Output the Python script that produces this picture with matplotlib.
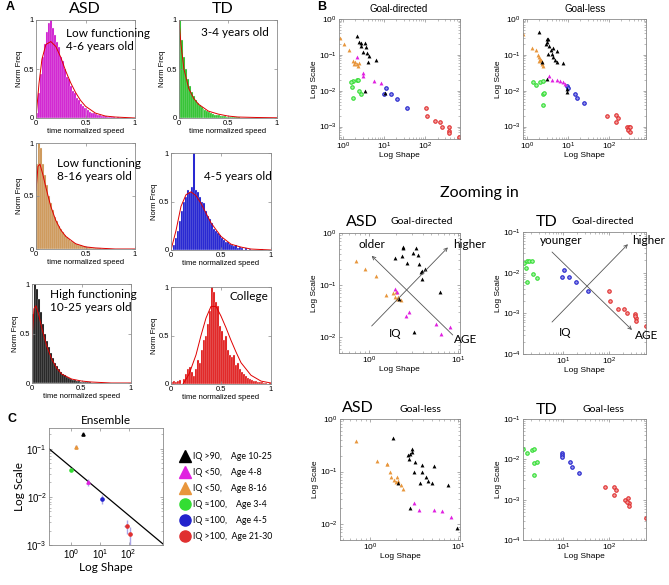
import matplotlib.pyplot as plt
from matplotlib.lines import Line2D
from matplotlib.ticker import NullFormatter, LogLocator
import numpy as np

plt.rcParams['font.family'] = ['Liberation Sans', 'DejaVu Sans']
plt.rcParams['mathtext.default'] = 'regular'

W, H = 669, 585
CAL = ['Lato', 'DejaVu Sans']

# ---------------- panel A: normalized speed histograms (50 bins on 0..1) ----------------
n_bins = 50
hist_asd_low46 = [0.05, 0.25, 0.45, 0.62, 0.75, 0.88, 0.97, 1.0, 0.92, 0.85,
                  0.78, 0.72, 0.62, 0.58, 0.5, 0.42, 0.4, 0.33, 0.28, 0.25,
                  0.2, 0.18, 0.14, 0.12, 0.1, 0.1, 0.08, 0.06, 0.05, 0.05,
                  0.04, 0.03, 0.03, 0.02, 0.02, 0.02, 0.01, 0.01, 0.01, 0.01,
                  0.0, 0.01, 0.0, 0.0, 0.0, 0.0, 0.0, 0.0, 0.0, 0.0]
hist_asd_low816 = [0.8, 1.0, 0.95, 0.8, 0.7, 0.6, 0.5, 0.43, 0.37, 0.3,
                   0.26, 0.22, 0.19, 0.16, 0.13, 0.11, 0.09, 0.08, 0.07, 0.06,
                   0.05, 0.04, 0.035, 0.03, 0.025, 0.02, 0.02, 0.015, 0.01, 0.01,
                   0.008, 0.006, 0.005, 0.004, 0.004, 0.003, 0.002, 0.002, 0.002, 0.001,
                   0.001, 0.001, 0.0, 0.0, 0.0, 0.0, 0.0, 0.0, 0.0, 0.0]
hist_asd_high = [0.7, 1.0, 0.95, 0.85, 0.72, 0.6, 0.5, 0.42, 0.36, 0.3,
                 0.25, 0.2, 0.17, 0.14, 0.11, 0.09, 0.08, 0.06, 0.05, 0.04,
                 0.035, 0.03, 0.025, 0.02, 0.015, 0.012, 0.01, 0.01, 0.008, 0.006,
                 0.005, 0.004, 0.003, 0.003, 0.002, 0.002, 0.001, 0.001, 0.001, 0.0,
                 0.0, 0.0, 0.0, 0.0, 0.0, 0.0, 0.0, 0.0, 0.0, 0.0]
hist_td_34 = [1.0, 0.8, 0.62, 0.5, 0.4, 0.33, 0.27, 0.22, 0.18, 0.15,
              0.13, 0.11, 0.09, 0.08, 0.07, 0.06, 0.05, 0.04, 0.035, 0.03,
              0.03, 0.025, 0.02, 0.018, 0.015, 0.012, 0.01, 0.01, 0.008, 0.007,
              0.006, 0.005, 0.004, 0.004, 0.003, 0.003, 0.002, 0.002, 0.002, 0.001,
              0.001, 0.001, 0.001, 0.0, 0.0, 0.0, 0.0, 0.0, 0.0, 0.0]
hist_td_45 = [0.0, 0.05, 0.12, 0.2, 0.3, 0.4, 0.5, 0.55, 0.62, 0.6,
              0.65, 1.0, 0.62, 0.6, 0.55, 0.5, 0.48, 0.4, 0.35, 0.32,
              0.28, 0.22, 0.2, 0.18, 0.15, 0.12, 0.1, 0.08, 0.08, 0.06,
              0.05, 0.04, 0.05, 0.02, 0.03, 0.02, 0.0, 0.02, 0.0, 0.01,
              0.0, 0.0, 0.0, 0.0, 0.0, 0.01, 0.0, 0.0, 0.0, 0.0]
hist_td_college = [0.02, 0.03, 0.02, 0.03, 0.04, 0.0, 0.05, 0.1, 0.15, 0.18,
                   0.12, 0.08, 0.15, 0.25, 0.22, 0.35, 0.45, 0.5, 0.62, 0.75,
                   1.0, 0.95, 0.85, 0.8, 0.6, 0.55, 0.45, 0.5, 0.35, 0.3,
                   0.28, 0.3, 0.2, 0.22, 0.15, 0.12, 0.1, 0.08, 0.06, 0.05,
                   0.04, 0.03, 0.03, 0.02, 0.02, 0.02, 0.01, 0.01, 0.0, 0.01]

# red fitted curves
fit_asd_low46_x = [0, 0.03, 0.06, 0.1, 0.15, 0.2, 0.25, 0.3, 0.35, 0.4, 0.45, 0.5, 0.6, 0.7, 0.8, 1.0]
fit_asd_low46_y = [0, 0.35, 0.6, 0.75, 0.78, 0.73, 0.62, 0.48, 0.36, 0.26, 0.18, 0.12, 0.05, 0.02, 0.01, 0.0]
fit_asd_low816_x = [0, 0.02, 0.04, 0.07, 0.1, 0.15, 0.2, 0.25, 0.3, 0.4, 0.5, 0.6, 0.8, 1.0]
fit_asd_low816_y = [0.55, 0.78, 0.8, 0.7, 0.58, 0.4, 0.27, 0.18, 0.12, 0.05, 0.02, 0.01, 0.0, 0.0]
fit_asd_high_x = [0, 0.02, 0.04, 0.07, 0.1, 0.15, 0.2, 0.25, 0.3, 0.4, 0.5, 0.6, 0.8, 1.0]
fit_asd_high_y = [0.45, 0.75, 0.78, 0.68, 0.55, 0.37, 0.24, 0.15, 0.09, 0.04, 0.02, 0.01, 0.0, 0.0]
fit_td_34_x = [0, 0.02, 0.05, 0.1, 0.15, 0.2, 0.3, 0.4, 0.5, 0.6, 0.8, 1.0]
fit_td_34_y = [1.0, 0.75, 0.5, 0.3, 0.2, 0.14, 0.07, 0.04, 0.02, 0.01, 0.005, 0.002]
fit_td_45_x = [0, 0.05, 0.1, 0.15, 0.2, 0.25, 0.3, 0.35, 0.4, 0.5, 0.6, 0.7, 0.8, 1.0]
fit_td_45_y = [0, 0.2, 0.45, 0.57, 0.6, 0.56, 0.48, 0.38, 0.28, 0.14, 0.06, 0.03, 0.01, 0.0]
fit_td_college_x = [0.12, 0.18, 0.25, 0.3, 0.35, 0.4, 0.45, 0.5, 0.55, 0.6, 0.65, 0.7, 0.8, 0.9, 1.0]
fit_td_college_y = [0.0, 0.1, 0.3, 0.5, 0.68, 0.8, 0.8, 0.7, 0.58, 0.45, 0.33, 0.22, 0.09, 0.03, 0.01]

# ---------------- panel B: (shape, scale) per participant ----------------
gd_orange = [(0.85, 0.29), (1.05, 0.2), (1.4, 0.14), (1.8, 0.067), (2.0, 0.063), (2.15, 0.057),
             (2.3, 0.05), (1.9, 0.057), (2.4, 0.059)]
gd_black = [(2.15, 0.33), (2.5, 0.23), (2.8, 0.22), (3.5, 0.21), (2.7, 0.18), (3.7, 0.165),
            (3.0, 0.12), (3.9, 0.11), (4.4, 0.09), (6.4, 0.074), (4.1, 0.063), (3.5, 0.01), (10.5, 0.0084)]
gd_magenta = [(2.15, 0.085), (3.0, 0.031), (3.1, 0.026), (5.8, 0.019), (8.5, 0.016)]
gd_green = [(1.8, 0.019), (2.15, 0.02), (2.3, 0.02), (1.55, 0.017), (1.7, 0.013), (2.4, 0.01),
            (2.8, 0.0082), (1.8, 0.0063)]
gd_blue = [(11, 0.012), (10, 0.0082), (14.6, 0.0082), (20.4, 0.006), (37, 0.0034)]
gd_red = [(105, 0.0034), (110, 0.002), (173, 0.0014), (228, 0.0013), (250, 0.001), (370, 0.001),
          (370, 0.00075), (370, 0.00065), (650, 0.00051)]

gl_orange = [(0.81, 0.39), (1.35, 0.158), (1.7, 0.138), (1.9, 0.1), (2.0, 0.086), (2.07, 0.077),
             (2.2, 0.072), (2.3, 0.062), (2.36, 0.056), (2.5, 0.05), (1.96, 0.069)]
gl_black = [(1.99, 0.44), (3.0, 0.27), (3.1, 0.23), (2.9, 0.2), (3.2, 0.28), (3.5, 0.18), (3.8, 0.14),
            (4.4, 0.16), (5.5, 0.13), (3.3, 0.107), (4.0, 0.107), (4.2, 0.086), (4.8, 0.072),
            (5.3, 0.062), (7.6, 0.058), (2.3, 0.062), (3.0, 0.021), (9.7, 0.0093), (9.7, 0.011)]
gl_magenta = [(3.5, 0.026), (4.0, 0.0195), (5.3, 0.0195), (6.3, 0.019), (7.6, 0.017), (8.4, 0.015)]
gl_green = [(1.37, 0.018), (1.7, 0.0145), (2.07, 0.017), (2.4, 0.019), (2.5, 0.0082), (2.6, 0.0088),
            (2.5, 0.0041)]
gl_blue = [(9.7, 0.0136), (10, 0.0116), (15, 0.0082), (16.8, 0.0064), (24.8, 0.0046)]
gl_red = [(91, 0.002), (150, 0.0021), (165, 0.0017), (146, 0.0013), (275, 0.001), (305, 0.00095),
          (330, 0.001), (290, 0.00081), (330, 0.0007), (740, 0.00036)]

# zoomed-in panels
zd_asd_orange = [(0.71, 0.29), (0.9, 0.2), (1.2, 0.15), (1.57, 0.066), (1.84, 0.07), (1.99, 0.075),
                 (1.94, 0.06), (2.04, 0.055), (2.27, 0.051), (2.1, 0.058)]
zd_asd_black = [(1.94, 0.33), (2.4, 0.54), (2.4, 0.52), (2.33, 0.37), (3.1, 0.41), (3.4, 0.52),
                (3.5, 0.38), (2.7, 0.27), (3.6, 0.26), (3.85, 0.18), (3.95, 0.19), (4.2, 0.2),
                (3.95, 0.13), (6.2, 0.075), (2.15, 0.055), (3.2, 0.0125)]
zd_asd_magenta = [(1.94, 0.085), (2.04, 0.075), (2.6, 0.026), (2.8, 0.031), (5.6, 0.018),
                  (6.4, 0.0115), (8.1, 0.0155)]
zd_td_green = [(1.41, 0.0175), (1.65, 0.0196), (1.8, 0.0196), (2.1, 0.0196), (1.57, 0.013),
               (2.2, 0.0095), (2.7, 0.0076), (1.65, 0.006)]
zd_td_blue = [(10.5, 0.0118), (9.5, 0.008), (13.5, 0.008), (19, 0.006), (35, 0.0035)]
zd_td_red = [(100, 0.0035), (105, 0.002), (157, 0.0013), (220, 0.0013), (250, 0.001), (370, 0.00095),
             (385, 0.00075), (385, 0.00065), (370, 0.00085), (640, 0.0005)]

zl_asd_orange = [(0.7, 0.38), (1.2, 0.156), (1.55, 0.14), (1.7, 0.1), (1.75, 0.08), (1.58, 0.14),
                 (1.9, 0.07), (2.05, 0.08), (2.0, 0.064), (2.1, 0.067), (2.27, 0.056), (2.4, 0.047)]
zl_asd_black = [(1.85, 0.43), (2.7, 0.21), (2.85, 0.22), (3.0, 0.24), (3.0, 0.27), (2.8, 0.17),
                (3.25, 0.15), (3.9, 0.136), (3.2, 0.1), (3.9, 0.1), (5.3, 0.13), (4.3, 0.08),
                (4.6, 0.067), (5.1, 0.06), (3.7, 0.06), (7.7, 0.056), (2.1, 0.062), (2.85, 0.0204),
                (9.8, 0.0084)]
zl_asd_magenta = [(3.2, 0.025), (3.6, 0.019), (5.3, 0.019), (6.6, 0.018), (8.4, 0.0135)]
zl_td_green = [(1.35, 0.018), (1.65, 0.0145), (2.1, 0.017), (2.3, 0.018), (2.4, 0.0082), (2.7, 0.0087),
               (2.4, 0.0041)]
zl_td_blue = [(9.5, 0.0145), (9.5, 0.013), (9.5, 0.0116), (14, 0.0087), (15.6, 0.0066), (22, 0.0047)]
zl_td_red = [(82, 0.0021), (128, 0.0021), (142, 0.0017), (128, 0.0013), (230, 0.001), (260, 0.0011),
             (270, 0.00084), (245, 0.0009), (270, 0.00068), (640, 0.00036)]

# ---------------- panel C: ensemble means ----------------
ens_labels = ['IQ >90,    Age 10-25', 'IQ <50,    Age 4-8', 'IQ <50,    Age 8-16',
              'IQ \u2248100,    Age 3-4', 'IQ \u2248100,    Age 4-5', 'IQ >100,  Age 21-30']
ens_shape = [2.55, 3.8, 1.42, 0.95, 11.7, 85, 115]
ens_scale = [0.2, 0.020, 0.11, 0.037, 0.0091, 0.0025, 0.0017]
ens_shape_err = [0.05, 0.4, 0.05, 0.05, 0.8, 15, 12]
ens_scale_err = [0.015, 0.003, 0.01, 0.002, 0.002, 0.0008, 0.0007]
ens_group = [0, 1, 2, 3, 4, 5, 5]
fit_line_shape = [0.166, 1580]
fit_line_scale = [0.1, 0.00105]

c_black = '#000000'
c_magenta = '#E020E0'
c_orange = '#E8963C'
c_green = '#33DD33'
c_blue = '#2222CC'
c_red = '#E03030'
group_colors = [c_black, c_magenta, c_orange, c_green, c_blue, c_red]
group_markers = ['^', '^', '^', 'o', 'o', 'o']
light_fill = {c_green: '#A8F0A8', c_blue: '#9898E8', c_red: '#F2A0A0'}

fig = plt.figure(figsize=(W / 100, H / 100), dpi=100)


def add_px(x0, y0, x1, y1):
    return fig.add_axes([x0 / W, 1 - y1 / H, (x1 - x0) / W, (y1 - y0) / H])


def ftext(x, y, s, **kw):
    fig.text(x / W, 1 - y / H, s, **kw)


def matlab_style(ax, size=5.5):
    for s in ax.spines.values():
        s.set_color('#8a8a8a')
        s.set_linewidth(0.6)
    ax.tick_params(which='both', direction='in', top=True, right=True, labelsize=size,
                   color='#8a8a8a', pad=1.5)
    ax.tick_params(which='major', length=2.5, width=0.5)
    ax.tick_params(which='minor', length=1.3, width=0.4)


def hist_panel(box, heights, color, fx, fy):
    ax = add_px(*box)
    edges = np.linspace(0, 1, n_bins + 1)
    ax.bar(edges[:-1], heights, width=1 / n_bins, align='edge', color=color,
           edgecolor='#f0f0f0', linewidth=0.25)
    ax.plot(fx, fy, color='#e00000', lw=0.7)
    ax.set_xlim(0, 1)
    ax.set_ylim(0, 1)
    ax.set_xticks([0, 0.5, 1])
    ax.set_xticklabels(['0', '0.5', '1'])
    ax.set_yticks([0, 0.5, 1])
    ax.set_yticklabels(['0', '0.5', '1'])
    matlab_style(ax, 5.5)
    ax.set_xlabel('time normalized speed', fontsize=5.5, labelpad=0.5)
    ax.set_ylabel('Norm Freq', fontsize=5.5, labelpad=0)
    return ax


hist_panel((36, 20, 135, 118), hist_asd_low46, '#CC00CC', fit_asd_low46_x, fit_asd_low46_y)
hist_panel((179, 20, 277, 118), hist_td_34, '#11BB11', fit_td_34_x, fit_td_34_y)
hist_panel((36, 143, 135, 249), hist_asd_low816, '#C98A40', fit_asd_low816_x, fit_asd_low816_y)
hist_panel((171, 153, 271, 250), hist_td_45, '#0000CC', fit_td_45_x, fit_td_45_y)
hist_panel((32, 284, 131, 383), hist_asd_high, '#000000', fit_asd_high_x, fit_asd_high_y)
hist_panel((171, 287, 271, 384), hist_td_college, '#E00000', fit_td_college_x, fit_td_college_y)

ftext(6, 7, 'A', fontsize=9, fontweight='bold', va='center')
ftext(85, 9, 'ASD', fontsize=11.5, family=CAL, ha='center', va='center')
ftext(223, 9, 'TD', fontsize=11.5, family=CAL, ha='center', va='center')
ftext(66, 40, 'Low functioning\n4-6 years old', fontsize=8.5, family=CAL, va='center', linespacing=1.25)
ftext(201, 32, '3-4 years old', fontsize=8.5, family=CAL, va='center')
ftext(57, 170, 'Low functioning\n8-16 years old', fontsize=8.5, family=CAL, va='center', linespacing=1.25)
ftext(204, 177, '4-5 years old', fontsize=8.5, family=CAL, va='center')
ftext(50, 301, 'High functioning\n10-25 years old', fontsize=8.5, family=CAL, va='center', linespacing=1.25)
ftext(230, 296, 'College', fontsize=8.5, family=CAL, va='center')


def log_panel(box, groups, xlim, ylim, xticks, yticks):
    ax = add_px(*box)
    ax.set_xscale('log')
    ax.set_yscale('log')
    for pts, color, marker in groups:
        xs = [p[0] for p in pts]
        ys = [p[1] for p in pts]
        if marker == 'o':
            ax.plot(xs, ys, ls='none', marker='o', ms=2.5, mec=color, mfc=light_fill[color], mew=0.8)
        else:
            ax.plot(xs, ys, ls='none', marker='^', ms=2.8, color=color, mew=0)
    ax.set_xlim(*xlim)
    ax.set_ylim(*ylim)
    ax.set_xticks(xticks)
    ax.set_yticks(yticks)
    ax.xaxis.set_minor_locator(LogLocator(base=10, subs=np.arange(2, 10)))
    ax.yaxis.set_minor_locator(LogLocator(base=10, subs=np.arange(2, 10)))
    ax.xaxis.set_minor_formatter(NullFormatter())
    ax.yaxis.set_minor_formatter(NullFormatter())
    matlab_style(ax, 6)
    ax.set_xlabel('Log Shape', fontsize=6, labelpad=0)
    ax.set_ylabel('Log Scale', fontsize=6, labelpad=1)
    return ax


top_y = [1e-3, 1e-2, 1e-1, 1e0]
log_panel((339, 19, 460, 139),
          [(gd_green, c_green, 'o'), (gd_blue, c_blue, 'o'), (gd_red, c_red, 'o'),
           (gd_orange, c_orange, '^'), (gd_magenta, c_magenta, '^'), (gd_black, c_black, '^')],
          (0.8, 700), (4.5e-4, 1), [1, 10, 100], top_y)
log_panel((523, 19, 646, 139),
          [(gl_green, c_green, 'o'), (gl_blue, c_blue, 'o'), (gl_red, c_red, 'o'),
           (gl_orange, c_orange, '^'), (gl_magenta, c_magenta, '^'), (gl_black, c_black, '^')],
          (0.8, 800), (4.5e-4, 1), [1, 10, 100], top_y)
ftext(317, 7, 'B', fontsize=9, fontweight='bold', va='center')
ftext(399, 9, 'Goal-directed', fontsize=7, ha='center', va='center')
ftext(585, 9, 'Goal-less', fontsize=7, ha='center', va='center')
ftext(479, 193, 'Zooming in', fontsize=11.5, family=CAL, ha='center', va='center')

ax_m1 = log_panel((339, 233, 460, 353),
                  [(zd_asd_orange, c_orange, '^'), (zd_asd_magenta, c_magenta, '^'),
                   (zd_asd_black, c_black, '^')],
                  (0.46, 10.5), (0.005, 1), [1, 10], [1e-2, 1e-1, 1e0])
ax_m2 = log_panel((523, 232, 646, 354),
                  [(zd_td_green, c_green, 'o'), (zd_td_blue, c_blue, 'o'), (zd_td_red, c_red, 'o')],
                  (1.35, 650), (1e-4, 1e-1), [10, 100], [1e-4, 1e-3, 1e-2, 1e-1])
ax_b1 = log_panel((340, 419, 460, 540),
                  [(zl_asd_orange, c_orange, '^'), (zl_asd_magenta, c_magenta, '^'),
                   (zl_asd_black, c_black, '^')],
                  (0.46, 10.5), (0.005, 1), [1, 10], [1e-2, 1e-1, 1e0])
ax_b2 = log_panel((523, 419, 646, 540),
                  [(zl_td_green, c_green, 'o'), (zl_td_blue, c_blue, 'o'), (zl_td_red, c_red, 'o')],
                  (1.35, 650), (1e-4, 1e-1), [10, 100], [1e-4, 1e-3, 1e-2, 1e-1])

ftext(362, 222, 'ASD', fontsize=11.5, family=CAL, ha='center', va='center')
ftext(422, 222, 'Goal-directed', fontsize=7.5, family=CAL, ha='center', va='center')
ftext(547, 222, 'TD', fontsize=11.5, family=CAL, ha='center', va='center')
ftext(603, 222, 'Goal-directed', fontsize=7.5, family=CAL, ha='center', va='center')
ftext(358, 408, 'ASD', fontsize=11.5, family=CAL, ha='center', va='center')
ftext(420, 409, 'Goal-less', fontsize=7.5, family=CAL, ha='center', va='center')
ftext(547, 410, 'TD', fontsize=11.5, family=CAL, ha='center', va='center')
ftext(603, 410, 'Goal-less', fontsize=7.5, family=CAL, ha='center', va='center')

arrow = dict(arrowstyle='->', color='#555555', lw=0.6, shrinkA=0, shrinkB=0, mutation_scale=6)
ax_m1.annotate('', xy=(0.27, 0.81), xytext=(0.94, 0.15), xycoords='axes fraction', arrowprops=arrow)
ax_m1.annotate('', xy=(0.90, 0.88), xytext=(0.27, 0.225), xycoords='axes fraction', arrowprops=arrow)
ax_m1.text(0.165, 0.9, 'older', transform=ax_m1.transAxes, fontsize=8.5, family=CAL, va='center')
ax_m1.text(0.94, 0.9, 'higher', transform=ax_m1.transAxes, fontsize=8.5, family=CAL, va='center')
ax_m1.text(0.46, 0.16, 'IQ', transform=ax_m1.transAxes, fontsize=8.5, family=CAL, ha='center', va='center')
ax_m1.text(1.05, 0.11, 'AGE', transform=ax_m1.transAxes, fontsize=8.5, family=CAL, ha='center', va='center')

ax_m2.annotate('', xy=(0.886, 0.197), xytext=(0.236, 0.836), xycoords='axes fraction', arrowprops=arrow)
ax_m2.annotate('', xy=(0.853, 0.90), xytext=(0.236, 0.262), xycoords='axes fraction', arrowprops=arrow)
ax_m2.text(0.31, 0.93, 'younger', transform=ax_m2.transAxes, fontsize=8.5, family=CAL, ha='center', va='center')
ax_m2.text(0.89, 0.93, 'higher', transform=ax_m2.transAxes, fontsize=8.5, family=CAL, va='center')
ax_m2.text(0.34, 0.18, 'IQ', transform=ax_m2.transAxes, fontsize=8.5, family=CAL, ha='center', va='center')
ax_m2.text(0.91, 0.15, 'AGE', transform=ax_m2.transAxes, fontsize=8.5, family=CAL, va='center')

# ---------------- panel C ----------------
ax_c = add_px(49, 428, 163, 545)
ax_c.set_xscale('log')
ax_c.set_yscale('log')
ax_c.plot(fit_line_shape, fit_line_scale, color='black', lw=0.9)
for i in range(len(ens_shape)):
    g = ens_group[i]
    ax_c.errorbar(ens_shape[i], ens_scale[i], xerr=ens_shape_err[i], yerr=ens_scale_err[i],
                  fmt='none', ecolor='#a9a4e6', elinewidth=1.0, capsize=0)
    ax_c.plot(ens_shape[i], ens_scale[i], ls='none', marker=group_markers[g], ms=2.3,
              color=group_colors[g])
ax_c.set_xlim(0.166, 1580)
ax_c.set_ylim(1e-3, 0.27)
ax_c.set_xticks([1, 10, 100])
ax_c.set_yticks([1e-3, 1e-2, 1e-1])
ax_c.xaxis.set_minor_locator(LogLocator(base=10, subs=np.arange(2, 10)))
ax_c.yaxis.set_minor_locator(LogLocator(base=10, subs=np.arange(2, 10)))
ax_c.xaxis.set_minor_formatter(NullFormatter())
ax_c.yaxis.set_minor_formatter(NullFormatter())
matlab_style(ax_c, 7)
ax_c.set_xlabel('Log Shape', fontsize=8.5, family=CAL, labelpad=1)
ax_c.set_ylabel('Log Scale', fontsize=8.5, family=CAL, labelpad=1)
ax_c.set_title('Ensemble', fontsize=8.5, family=CAL, pad=3)
ftext(7, 419, 'C', fontsize=9, fontweight='bold', va='center')

handles = [Line2D([], [], ls='none', marker=group_markers[g], ms=8, color=group_colors[g])
           for g in range(6)]
ax_c.legend(handles, ens_labels, loc='upper left', bbox_to_anchor=(181 / W, 1 - 452 / H),
            bbox_transform=fig.transFigure, frameon=False, prop={'family': CAL, 'size': 6.3},
            handlelength=1.0, handletextpad=0.4, labelspacing=0.8, borderaxespad=0, borderpad=0)

fig.savefig('out.png', dpi=100)
